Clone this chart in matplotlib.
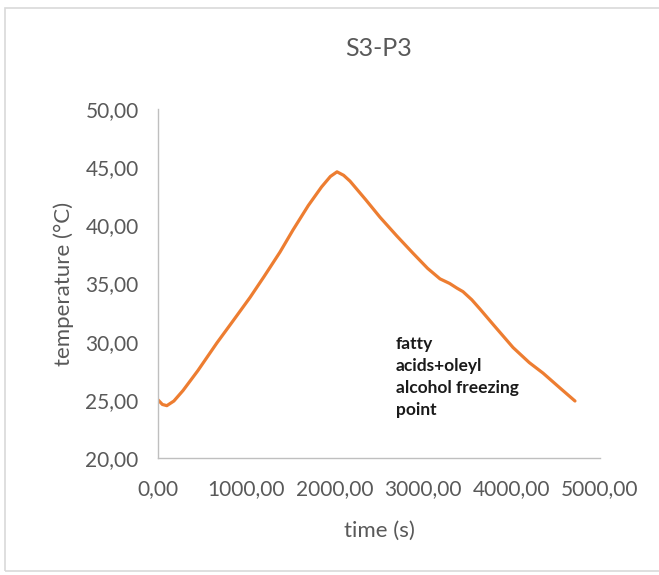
import matplotlib.pyplot as plt
from matplotlib.patches import Rectangle
from matplotlib.ticker import FuncFormatter

# time (s) and temperature (C)
time_s = [0, 50, 100, 180, 283, 450, 667, 850, 1041, 1200, 1380, 1527, 1700,
          1850, 1950, 2025, 2100, 2172, 2350, 2511, 2700, 2885, 3050, 3190,
          3300, 3382, 3450, 3550, 3643, 3800, 4016, 4200, 4355, 4550, 4717]
temp_c = [25.0, 24.6, 24.5, 24.9, 25.8, 27.5, 29.9, 31.8, 33.8, 35.6, 37.7,
          39.6, 41.7, 43.3, 44.2, 44.6, 44.3, 43.8, 42.2, 40.7, 39.1, 37.6,
          36.3, 35.4, 35.0, 34.6, 34.3, 33.6, 32.8, 31.4, 29.5, 28.2, 27.3,
          26.0, 24.9]

title = 'S3-P3'
note = 'fatty\nacids+oleyl\nalcohol freezing\npoint'

plt.rcParams['font.family'] = ['Lato', 'DejaVu Sans']
grey = '#595959'

fig = plt.figure(figsize=(6.59, 5.75), dpi=100)
ax = fig.add_axes([158 / 659, 117 / 575, 442 / 659, 349 / 575])

# outer chart border like excel
fig.patches.append(Rectangle((5 / 659, 4 / 575), 1.0, 563 / 575,
                             transform=fig.transFigure, fill=False,
                             edgecolor='#d9d9d9', lw=1.2))

ax.plot(time_s, temp_c, color='#ed7d31', lw=2.3, solid_capstyle='round',
        solid_joinstyle='round')

ax.set_xlim(0, 5000)
ax.set_ylim(20, 50)
ax.set_xticks(range(0, 5001, 1000))
ax.set_yticks(range(20, 51, 5))

comma = FuncFormatter(lambda v, p: f'{v:.2f}'.replace('.', ','))
ax.xaxis.set_major_formatter(comma)
ax.yaxis.set_major_formatter(comma)

ax.tick_params(length=0, labelsize=15, colors=grey)
ax.tick_params(axis='y', pad=14)
ax.tick_params(axis='x', pad=15)

for s in ['top', 'right']:
    ax.spines[s].set_visible(False)
for s in ['left', 'bottom']:
    ax.spines[s].set_color('#bfbfbf')
    ax.spines[s].set_linewidth(1.0)

ax.set_title(title, fontsize=18, color=grey, pad=38)
ax.set_xlabel('time (s)', fontsize=16, color=grey, labelpad=16)
ax.set_ylabel('temperature (°C)', fontsize=16, color=grey, labelpad=8)

ax.text(2690, 30.45, note, fontsize=12.5, fontweight='bold', color='#1a1a1a',
        va='top', ha='left', linespacing=1.45)

fig.savefig('out.png', dpi=100)
